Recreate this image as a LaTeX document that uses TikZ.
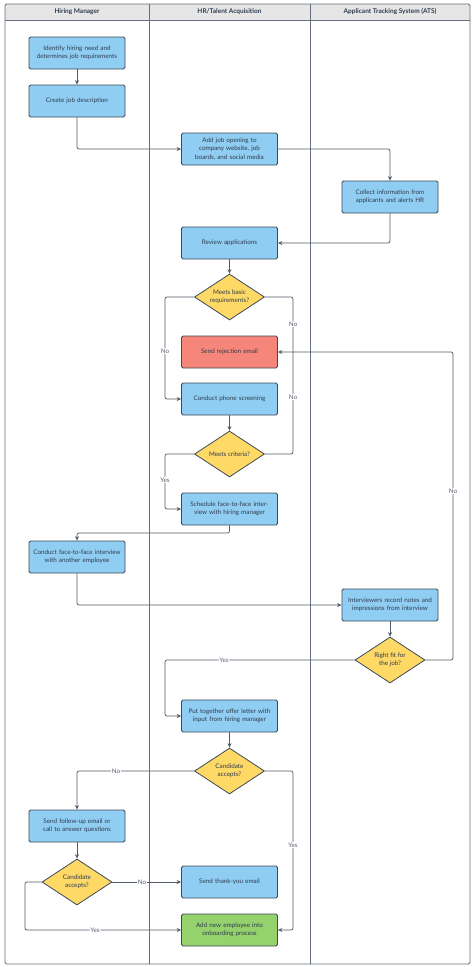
\documentclass[tikz,border=0pt]{standalone}
\usepackage{fontspec}
\setmainfont{Lato}
\usetikzlibrary{shapes.geometric,arrows.meta}
\definecolor{bl}{HTML}{90CDF2}
\definecolor{rd}{HTML}{F7867A}
\definecolor{yl}{HTML}{FFD966}
\definecolor{gr}{HTML}{95D16C}
\definecolor{bd}{HTML}{3E4A5A}
\definecolor{hd}{HTML}{E6E6E6}
\definecolor{tx}{HTML}{2E3B4E}
\begin{document}
\begin{tikzpicture}[x=1pt,y=-1pt,
 box/.style={draw=bd,line width=0.8pt,rounded corners=1.5pt,minimum width=96pt,minimum height=32pt,text width=88pt,align=center,font=\fontsize{6.3}{8.4}\selectfont,text=tx,inner sep=1pt},
 dia/.style={diamond,draw=bd,line width=0.8pt,fill=yl,aspect=1.52,minimum width=70pt,minimum height=46pt,inner sep=0pt,align=center,font=\fontsize{6.3}{8.4}\selectfont,text=tx},
 ar/.style={draw=bd!90,line width=0.7pt,rounded corners=2pt,-{Stealth[length=4.5pt,width=4pt]}},
 ln/.style={draw=bd!90,line width=0.7pt,rounded corners=2pt},
 lb/.style={fill=white,inner sep=0.8pt,font=\fontsize{6.3}{7}\selectfont,text=tx!80}]
\useasboundingbox (0,0) rectangle (474,967);
\fill[white] (0,0) rectangle (474,967);
\fill[hd] (5,4) rectangle (470,20);
\draw[bd!80,line width=0.8pt,rounded corners=1.5pt] (5,4) rectangle (470,964);
\draw[bd!80,line width=0.8pt] (5,20) -- (470,20) (149,4) -- (149,964) (310,4) -- (310,964);
\node[font=\bfseries\fontsize{6.5}{8}\selectfont,text=tx] (h1) at (77,12) {Hiring Manager};
\node[font=\bfseries\fontsize{6.5}{8}\selectfont,text=tx] (h2) at (229.5,12) {HR/Talent Acquisition};
\node[font=\bfseries\fontsize{6.5}{8}\selectfont,text=tx] (h3) at (390,12) {Applicant Tracking System (ATS)};

\node[box,fill=bl] (n1) at (77,53) {Identify hiring need and determines job requirements};
\node[box,fill=bl] (n2) at (77,101) {Create job description};
\node[box,fill=bl] (n3) at (229.5,149) {Add job opening to company website, job boards, and social media};
\node[box,fill=bl] (n4) at (390,197) {Collect information from applicants and alerts HR};
\node[box,fill=bl] (n5) at (229.5,243) {Review applications};
\node[dia] (d1) at (229.5,297) {Meets basic\\requirements?};
\node[box,fill=rd] (n6) at (229.5,352) {Send rejection email};
\node[box,fill=bl] (n7) at (229.5,399) {Conduct phone screening};
\node[dia] (d2) at (229.5,454) {Meets criteria?};
\node[box,fill=bl] (n8) at (229.5,509) {Schedule face-to-face interview with hiring manager};
\node[box,fill=bl] (n9) at (77,557) {Conduct face-to-face interview with another employee};
\node[box,fill=bl] (n10) at (390,605) {Interviewers record notes and impressions from interview};
\node[dia] (d3) at (390,660) {Right fit for\\the job?};
\node[box,fill=bl] (n11) at (229.5,716) {Put together offer letter with input from hiring manager};
\node[dia] (d4) at (229.5,771) {Candidate\\accepts?};
\node[box,fill=bl] (n12) at (77,826) {Send follow-up email or call to answer questions};
\node[dia] (d5) at (77,882) {Candidate\\accepts?};
\node[box,fill=bl] (n13) at (229.5,882) {Send thank-you email};
\node[box,fill=gr] (n14) at (229.5,930) {Add new employee into onboarding process};

\coordinate (c1) at (293,352);
\draw[ar] (n1) -- (n2);
\draw[ar] (n2.south) |- (n3.west);
\draw[ar] (n3.east) -| (n4.north);
\draw[ar] (n4.south) |- (n5.east);
\draw[ar] (n5) -- (d1);
\draw[ar] (d1.west) -| (165,351) node[lb]{No} |- (n7.west);
\draw[ln] (d1.east) -| (293,324) node[lb]{No} -- (c1);
\draw[ln] (d2.east) -| (293,397) node[lb]{No} -- (c1);
\draw[ar] (n7) -- (d2);
\draw[ar] (d2.west) -| (165,480) node[lb]{Yes} |- (n8.west);
\draw[ar] (n8.south) -- (229.5,533) -| (n9.north);
\draw[ar] (n9.south) |- (n10.west);
\draw[ar] (n10) -- (d3);
\draw[ar] (d3.east) -| (453,491) node[lb]{No} |- (n6.east);
\draw[ar] (d3.west) -- (224,660) node[lb]{Yes} -| (165,700) |- (n11.west);
\draw[ar] (n11) -- (d4);
\draw[ar] (d4.west) -- (116,771) node[lb]{No} -| (n12.north);
\draw[ar] (d4.east) -| (293,845) node[lb]{Yes} |- (n14.east);
\draw[ar] (n12) -- (d5);
\draw[ar] (d5.east) -- (142,882) node[lb]{No} -- (n13.west);
\draw[ar] (d5.west) -| (25,930) -- (95,930) node[lb]{Yes} -- (n14.west);
\end{tikzpicture}
\end{document}
